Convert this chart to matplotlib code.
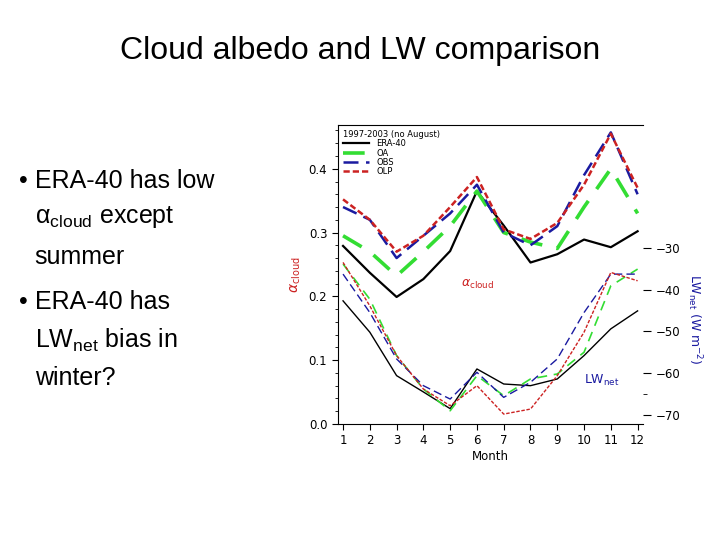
import matplotlib
matplotlib.use("Agg")
import matplotlib.pyplot as plt
from matplotlib.ticker import MultipleLocator

months = list(range(1, 13))

# cloud albedo
alb_era = [0.279, 0.237, 0.199, 0.227, 0.271, 0.365, 0.311, 0.253, 0.266, 0.289, 0.277, 0.302]
alb_oa = [0.295, 0.270, 0.232, 0.270, 0.310, 0.365, 0.300, 0.285, 0.275, 0.340, 0.400, 0.330]
alb_obs = [0.340, 0.320, 0.260, 0.295, 0.330, 0.375, 0.300, 0.280, 0.310, 0.390, 0.457, 0.360]
alb_olp = [0.352, 0.320, 0.270, 0.295, 0.340, 0.387, 0.305, 0.290, 0.315, 0.375, 0.455, 0.370]

# LW net (W m-2)
lw_era = [-42.7, -50.2, -60.6, -64.5, -68.5, -59.0, -62.6, -63.0, -61.4, -55.8, -49.4, -45.1]
lw_oa = [-33.9, -42.3, -55.8, -63.8, -69.0, -60.6, -65.4, -61.4, -60.2, -55.0, -39.1, -35.1]
lw_obs = [-36.3, -45.5, -56.6, -63.0, -66.2, -59.8, -65.8, -62.2, -56.6, -45.5, -36.3, -36.3]
lw_olp = [-33.5, -43.9, -55.8, -63.8, -67.8, -63.0, -69.8, -68.6, -60.6, -50.2, -35.9, -37.9]

labels = ["ERA-40", "OA", "OBS", "OLP"]

fig = plt.figure(figsize=(7.2, 5.4), dpi=100)
fig.patch.set_facecolor("white")
fig.text(0.5, 0.905, "Cloud albedo and LW comparison", ha="center", va="center",
         fontsize=23, family="Liberation Sans")

bullets = [(0.665, "•", "ERA-40 has low"), (0.598, "", "α$_{\\mathregular{cloud}}$ except"),
           (0.525, "", "summer"), (0.44, "•", "ERA-40 has"),
           (0.37, "", "LW$_{\\mathregular{net}}$ bias in"), (0.30, "", "winter?")]
for y, b, t in bullets:
    if b:
        fig.text(0.026, y, b, fontsize=18, va="center", family="Liberation Sans")
    fig.text(0.048, y, t, fontsize=18, va="center", family="Liberation Sans")

ax = fig.add_axes([0.469, 0.215, 0.424, 0.554])
ax.plot(months, alb_era, color="black", lw=1.6, label=labels[0])
ax.plot(months, alb_oa, color="#33dd33", lw=2.6, dashes=(6, 4), label=labels[1])
ax.plot(months, alb_obs, color="#1a1aa0", lw=1.8, dashes=(6, 3), label=labels[2])
ax.plot(months, alb_olp, color="#cc2222", lw=1.8, dashes=(2.5, 1.2), label=labels[3])
ax.set_xlim(0.8, 12.2)
ax.set_ylim(0, 0.469)
ax.set_xticks(months)
ax.yaxis.set_major_locator(MultipleLocator(0.1))
ax.yaxis.set_minor_locator(MultipleLocator(0.02))
ax.tick_params(labelsize=8.5, direction="out", length=4)
ax.tick_params(which="minor", length=2)
ax.set_xlabel("Month", fontsize=8.5, labelpad=2)
ax.set_ylabel("$\\alpha_{\\mathregular{cloud}}$", color="#cc2222", fontsize=10)
ax.spines["right"].set_visible(False)
ax.text(5.4, 0.215, "$\\alpha_{\\mathregular{cloud}}$", color="#cc2222", fontsize=9)
ax.text(10.0, 0.062, "LW$_{\\mathregular{net}}$", color="#1a1aa0", fontsize=9)
leg = ax.legend(loc="upper left", fontsize=6, frameon=False, handlelength=3.2,
                labelspacing=0.05, title="1997-2003 (no August)", title_fontsize=6,
                borderaxespad=0.2)
leg._legend_box.align = "left"

ax2 = ax.twinx()
ax2.plot(months, lw_era, color="black", lw=1.0)
ax2.plot(months, lw_oa, color="#33dd33", lw=1.2, dashes=(6, 4))
ax2.plot(months, lw_obs, color="#1a1aa0", lw=1.0, dashes=(6, 3))
ax2.plot(months, lw_olp, color="#cc2222", lw=1.0, dashes=(2.5, 1.2))
ax2.set_ylim(-72.15, -0.55)
ax2.set_yticks([-30, -40, -50, -60, -70])
ax2.set_yticks([-65], minor=True)
ax2.tick_params(labelsize=8.5, direction="out", length=6)
ax2.tick_params(which="minor", length=3)
for s in ["right", "top", "left", "bottom"]:
    ax2.spines[s].set_visible(False)
ax2.set_ylabel("LW$_{\\mathregular{net}}$ (W m$^{-2}$)", color="#1a1aa0", fontsize=9,
               rotation=-90, labelpad=12)
ax2.yaxis.set_label_coords(1.2, 0.35)

fig.savefig("out.png", dpi=100)
